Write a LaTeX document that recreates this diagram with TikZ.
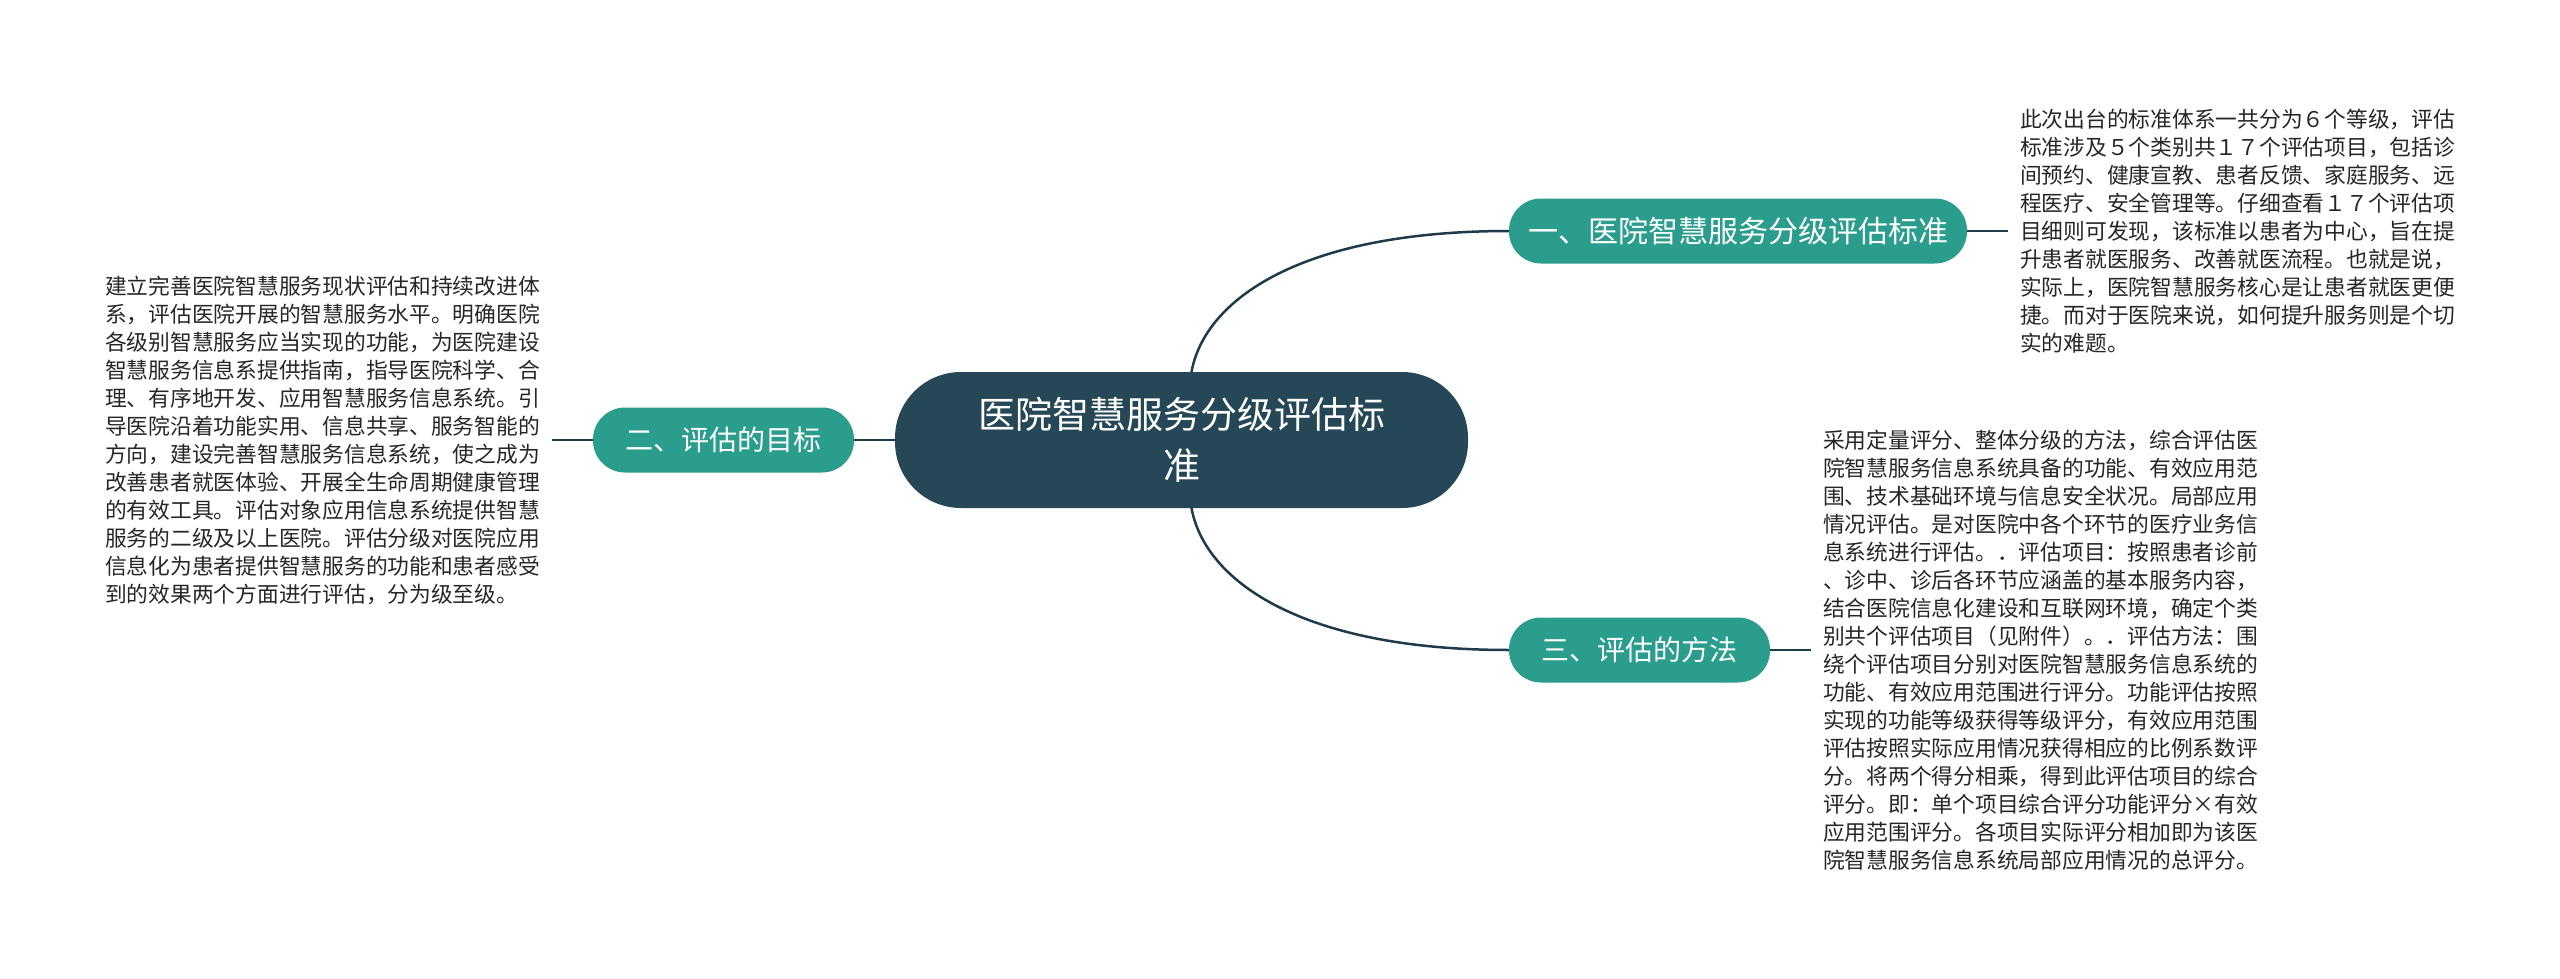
\documentclass[tikz,border=0pt]{standalone}
\usepackage{fontspec}
\setmainfont{Noto Sans CJK SC}
\usetikzlibrary{positioning}
\definecolor{rootfill}{HTML}{264756}
\definecolor{branchfill}{HTML}{2A9D8C}
\definecolor{linkcol}{HTML}{1F3B4A}
\definecolor{notetext}{HTML}{262626}

\begin{document}
\begin{tikzpicture}[node distance=41pt, every node/.style={outer sep=0pt},
	root/.style={fill=rootfill, text=white, rounded corners=66pt, minimum width=573pt, minimum height=136pt, align=center, font=\fontsize{37pt}{51pt}\selectfont},
	branch/.style={fill=branchfill, text=white, rounded corners=32pt, minimum width=261pt, minimum height=65pt, font=\fontsize{28pt}{34pt}\selectfont},
	note/.style={inner xsep=12pt, inner ysep=0pt, align=left, text=notetext, font=\fontsize{21.75pt}{28pt}\selectfont},
	link/.style={draw=linkcol, line width=2.5pt}]
		\fill[white] (0pt,0pt) rectangle (2560pt,-979pt);
		\useasboundingbox (0pt,0pt) rectangle (2560pt,-979pt);
		
		\node[root] (hub) at (1181.5pt,-440pt) {医院智慧服务分级评估标\\准};
		\node[branch, minimum width=458pt, font=\fontsize{30pt}{36pt}\selectfont] (std) [right=of hub, yshift=209pt] {一、医院智慧服务分级评估标准};
		\node[branch] (goal) [left=of hub] {二、评估的目标};
		\node[branch] (method) [right=of hub, yshift=-210pt] {三、评估的方法};
		
		\node[note] (stdtxt) [right=of std] {此次出台的标准体系一共分为６个等级，评估\\标准涉及５个类别共１７个评估项目，包括诊\\间预约、健康宣教、患者反馈、家庭服务、远\\程医疗、安全管理等。仔细查看１７个评估项\\目细则可发现，该标准以患者为中心，旨在提\\升患者就医服务、改善就医流程。也就是说，\\实际上，医院智慧服务核心是让患者就医更便\\捷。而对于医院来说，如何提升服务则是个切\\实的难题。};
		\node[note] (goaltxt) [left=of goal] {建立完善医院智慧服务现状评估和持续改进体\\系，评估医院开展的智慧服务水平。明确医院\\各级别智慧服务应当实现的功能，为医院建设\\智慧服务信息系提供指南，指导医院科学、合\\理、有序地开发、应用智慧服务信息系统。引\\导医院沿着功能实用、信息共享、服务智能的\\方向，建设完善智慧服务信息系统，使之成为\\改善患者就医体验、开展全生命周期健康管理\\的有效工具。评估对象应用信息系统提供智慧\\服务的二级及以上医院。评估分级对医院应用\\信息化为患者提供智慧服务的功能和患者感受\\到的效果两个方面进行评估，分为级至级。};
		\node[note] (methodtxt) [right=of method] {采用定量评分、整体分级的方法，综合评估医\\院智慧服务信息系统具备的功能、有效应用范\\围、技术基础环境与信息安全状况。局部应用\\情况评估。是对医院中各个环节的医疗业务信\\息系统进行评估。．评估项目：按照患者诊前\\、诊中、诊后各环节应涵盖的基本服务内容，\\结合医院信息化建设和互联网环境，确定个类\\别共个评估项目（见附件）。．评估方法：围\\绕个评估项目分别对医院智慧服务信息系统的\\功能、有效应用范围进行评分。功能评估按照\\实现的功能等级获得等级评分，有效应用范围\\评估按照实际应用情况获得相应的比例系数评\\分。将两个得分相乘，得到此评估项目的综合\\评分。即：单个项目综合评分功能评分×有效\\应用范围评分。各项目实际评分相加即为该医\\院智慧服务信息系统局部应用情况的总评分。};
		
		\draw[link] ([xshift=10pt]hub.north) .. controls +(13pt,72pt) and +(-209pt,0pt) .. (std.west);
		\draw[link] ([xshift=10pt]hub.south) .. controls +(13pt,-72pt) and +(-209pt,0pt) .. (method.west);
		\draw[link] (hub) -- (goal);
		\draw[link] (std) -- (stdtxt);
		\draw[link] (goal) -- (goaltxt);
		\draw[link] (method) -- (methodtxt);
	\end{tikzpicture}
\end{document}
